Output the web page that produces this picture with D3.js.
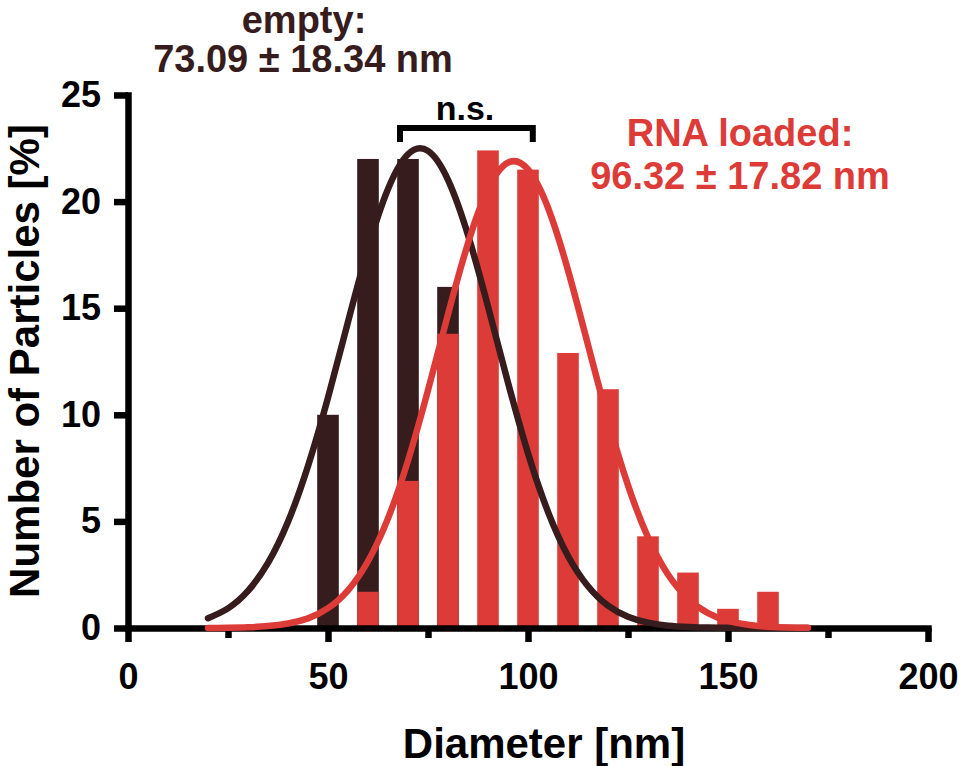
<!DOCTYPE html>
<html>
<head>
<meta charset="utf-8">
<script src="https://cdn.jsdelivr.net/npm/d3@7"></script>
<style>
	body { margin:0; background:#fff; }
	text { font-family:"Liberation Sans", Arial, Helvetica, sans-serif; font-weight:bold; }
</style>
</head>
<body>
<div id="chart"></div>
<script>
// histogram bins (nm) and % of particles
var emptyBins = [50, 60, 70, 80];
var emptyPct  = [10, 22, 22, 16];
var rnaBins   = [60, 70, 80, 90, 100, 110, 120, 130, 140, 150, 160];
var rnaPct    = [1.7, 6.9, 13.8, 22.4, 21.5, 12.9, 11.2, 4.3, 2.6, 0.9, 1.7];

var curveX     = [20,25,30,35,40,45,50,55,60,65,70,75,80,85,90,95,100,105,110,115,120,125,130,135,140,145,150,155,160,165,170];
var emptyCurve = [0.46,0.92,1.74,3.05,4.98,7.60,10.81,14.36,17.80,20.59,22.22,22.38,21.02,18.43,15.08,11.51,8.20,5.45,3.38,1.96,1.05,0.53,0.25,0.11,0.05,0.02,0.01,0,0,0,0];
var rnaCurve   = [0,0.01,0.03,0.09,0.21,0.45,0.93,1.77,3.13,5.14,7.85,11.15,14.71,18.05,20.59,21.83,21.51,19.71,16.78,13.28,9.77,6.69,4.25,2.51,1.38,0.70,0.33,0.15,0.06,0.02,0.01];

var xMajor = [0, 50, 100, 150, 200];
var xMinor = [25, 75, 125, 175];
var yTicks = [0, 5, 10, 15, 20, 25];

var dark = "#361c1d",
	red  = "#dc3b38";

var W = 960, H = 766;
var x = d3.scaleLinear().domain([0, 200]).range([128, 928]);
var y = d3.scaleLinear().domain([0, 25]).range([628, 95]);
var barHalf = 2.7;

var svg = d3.select("#chart").append("svg")
			.attr("width", W)
			.attr("height", H);
svg.append("rect").attr("width", W).attr("height", H).attr("fill", "#fff");

// bars
function drawBars(bins, vals, col)
{
	svg.append("g").selectAll("rect")
		.data(bins.map(function(b, i){ return {b:b, v:vals[i]}; }))
		.enter()
		.append("rect")
		.attr("x", function(d){ return x(d.b - barHalf); })
		.attr("width", function(d){ return x(d.b + barHalf) - x(d.b - barHalf); })
		.attr("y", function(d){ return y(d.v); })
		.attr("height", function(d){ return y(0) - y(d.v); })
		.attr("fill", col);
}
drawBars(emptyBins, emptyPct, dark);
drawBars(rnaBins, rnaPct, red);

// axes
function styleAxis(g)
{
	g.selectAll("path.domain").attr("stroke", "#000").attr("stroke-width", 6.5).attr("stroke-linecap", "square");
	g.selectAll(".tick line").attr("stroke", "#000").attr("stroke-width", 6.5);
	g.selectAll(".tick text").attr("fill", "#000").style("font-size", "36px");
}

var xAxis = svg.append("g")
			.attr("transform", "translate(0," + y(0) + ")")
			.call(d3.axisBottom(x).tickValues(xMajor).tickSize(14).tickPadding(21).tickSizeOuter(0))
			.call(styleAxis);
xAxis.attr("font-family", null).attr("font-size", null);

var xMinorAxis = svg.append("g")
			.attr("transform", "translate(0," + y(0) + ")")
			.call(d3.axisBottom(x).tickValues(xMinor).tickSize(10).tickFormat("").tickSizeOuter(0))
			.call(styleAxis);
xMinorAxis.select("path.domain").remove();

var yAxis = svg.append("g")
			.attr("transform", "translate(" + x(0) + ",0)")
			.call(d3.axisLeft(y).tickValues(yTicks).tickSize(14).tickPadding(13).tickSizeOuter(0))
			.call(styleAxis);
yAxis.attr("font-family", null).attr("font-size", null);

// fitted curves
var line = d3.line()
			.x(function(d){ return x(d[0]); })
			.y(function(d){ return y(d[1]); })
			.curve(d3.curveNatural);

svg.append("path")
	.datum(curveX.map(function(v, i){ return [v, emptyCurve[i]]; }))
	.attr("d", line)
	.attr("fill", "none")
	.attr("stroke", dark)
	.attr("stroke-width", 6.5)
	.attr("stroke-linecap", "round");

svg.append("path")
	.datum(curveX.map(function(v, i){ return [v, rnaCurve[i]]; }))
	.attr("d", line)
	.attr("fill", "none")
	.attr("stroke", red)
	.attr("stroke-width", 6.5)
	.attr("stroke-linecap", "round");

// axis titles
svg.append("text")
	.attr("x", 544).attr("y", 758)
	.attr("text-anchor", "middle")
	.style("font-size", "42px")
	.text("Diameter [nm]");

svg.append("text")
	.attr("transform", "translate(39,361) rotate(-90)")
	.attr("text-anchor", "middle")
	.style("font-size", "42px")
	.text("Number of Particles [%]");

// significance bracket
svg.append("path")
	.attr("d", "M" + x(68) + ",142V128H" + x(101.2) + "V142")
	.attr("fill", "none")
	.attr("stroke", "#000")
	.attr("stroke-width", 6);

svg.append("text")
	.attr("x", 465).attr("y", 120)
	.attr("text-anchor", "middle")
	.style("font-size", "34px")
	.text("n.s.");

// group labels
var labels = [
	{t:"empty:",            x:304, y:33,  c:dark},
	{t:"73.09 \u00b1 18.34 nm", x:303, y:72,  c:dark},
	{t:"RNA loaded:",       x:740, y:146, c:red},
	{t:"96.32 \u00b1 17.82 nm", x:740, y:189, c:red}
];
svg.selectAll("text.lab")
	.data(labels)
	.enter()
	.append("text")
	.attr("class", "lab")
	.attr("x", function(d){ return d.x; })
	.attr("y", function(d){ return d.y; })
	.attr("text-anchor", "middle")
	.attr("fill", function(d){ return d.c; })
	.style("font-size", "38px")
	.text(function(d){ return d.t; });
</script>
</body>
</html>
